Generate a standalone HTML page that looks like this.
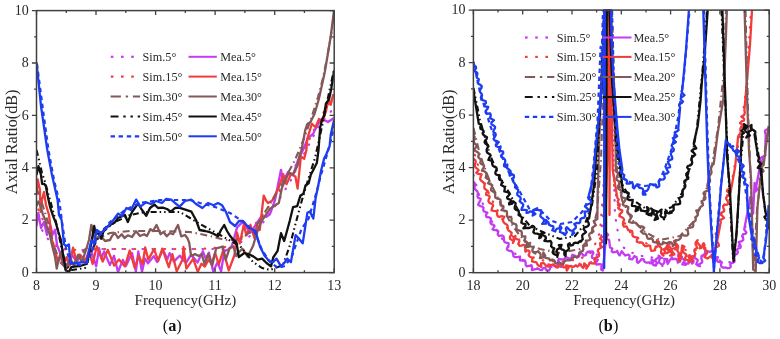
<!DOCTYPE html>
<html><head><meta charset="utf-8"><style>
html,body{margin:0;padding:0;background:#fff;width:780px;height:339px;overflow:hidden}
svg{display:block;will-change:transform;filter:blur(0.3px)}
text{font-family:"Liberation Serif", serif;fill:#2a2a2a}
.t{font-size:14px}
.lg{font-size:12.2px}
.ax{font-size:15px}
.ay{font-size:16.2px}
.cap{font-size:16.3px;fill:#111}
</style></head><body>
<svg width="780" height="339" viewBox="0 0 780 339">
<defs><clipPath id="cl"><rect x="36.5" y="10" width="298" height="263"/></clipPath><clipPath id="cr"><rect x="473.4" y="9.6" width="296" height="263.5"/></clipPath></defs>
<g clip-path="url(#cl)">
<polyline points="36.5,222 42,230 50,242 58,250 70,251 100,249 150,249 200,249 225,249 238,244 250,236 262,224 275,206 290,182 305,152 320,124 334,108" fill="none" stroke="#c43cf2" stroke-width="2.2" stroke-linejoin="round" stroke-dasharray="0.6 9.4" stroke-linecap="round"/>
<polyline points="36.5,205 42,218 50,236 58,248 70,250 100,249 150,249 200,249 225,247 238,240 250,230 262,216 275,198 290,176 305,148 320,118 334,96" fill="none" stroke="#f23c3c" stroke-width="2.2" stroke-linejoin="round" stroke-dasharray="0.6 9.4" stroke-dashoffset="5" stroke-linecap="round"/>
<polyline points="36.5,226 38.4,213 41,228 44,222 47,235 50.2,225 52.7,234.6 55.1,229.7 57,245 60,252.5 62,262 66.1,267.4 71.9,254.3 76.6,261.9 81,255.7 85.2,261.6 90.5,248.4 96.2,266.3 99.1,248.2 101.4,258.5 104.1,251.4 109.9,265.1 114,255.9 118,272 122.9,259.9 125.9,266 132,253 135.9,271.4 138.3,251.4 142,271.7 145,258.5 148,263.3 153.9,256.1 157.1,262 163.1,249.7 167.3,259.4 169.6,253.1 173.8,261.6 179.9,255.7 185.8,263 191.2,254.7 197.5,262.5 202.9,251.3 205.8,258.8 208.9,252.6 213.2,271.4 217.5,262.2 221.1,271.4 224.3,251.1 228.6,249.4 231.8,246 237.1,227.4 242.4,222.1 246.4,227.4 250.4,232.7 255.7,224.8 261,216.8 266.3,216.8 270,214.2 275,200 281,169.8 283.2,182 288,172 293,175 298,160 303,150 308,138 313,134 318,124 322,119 328,122 334,118" fill="none" stroke="#c43cf2" stroke-width="2.3" stroke-linejoin="round"/>
<polyline points="36.5,195 37.7,179.4 39.9,189.7 40.6,211.9 42,200 44,192 46,205 49,215 52,240 55,250 58,262 61,255 64,265 66.5,257.3 70,265 73,247.6 76.2,260.6 79.4,254.4 85.3,260.7 89.1,251.5 92.6,264 96.8,246.3 102.7,261.6 107.8,249.9 114.2,265.6 119,259.4 124.9,266.4 129.7,250.5 134.7,267.8 138.7,255.8 142.6,264.3 145.2,247.5 148.3,259.6 154.1,249.1 158.2,260.9 162.3,248.7 168.8,267.2 172.4,254.1 176.7,271.3 182.5,259.8 183.5,247 186.4,268.7 193.2,258.8 197.8,271.9 201.4,263.7 204.8,266.6 208.6,259.5 211.6,264.1 215.1,252.9 218.8,264.3 223.2,250.4 228.8,270.4 234.5,255 237.1,232.7 239.8,243.4 243.8,224.8 246.4,235.4 250.4,224.8 254.4,238 257,224.8 259.7,230.1 263.7,195.6 266.3,200.9 268,203 272.1,200.8 278.8,187.5 283.2,174.2 286.5,184.2 290.9,174.2 295.4,176.5 297.6,188.6 300.9,156.5 304.2,158.8 306.4,149.9 307.2,139.1 311.9,123.7 315.5,127.3 319,119 322.6,121.4 326.1,110.7 328.5,98.9 330.8,104.8 333.2,94.2" fill="none" stroke="#f23c3c" stroke-width="2.3" stroke-linejoin="round"/>
<polyline points="36.5,188 42,203 48,222 54,246 60,262 66,268 75,262 85,250 95,240 110,233 130,231 160,231 190,232 210,236 225,240 240,240 255,228 265,212 280,188 295,160 305,136 312,116 318,97 323,78 327,58 331,35 334.2,14" fill="none" stroke="#845858" stroke-width="2.1" stroke-linejoin="round" stroke-dasharray="7 3.6 1.4 3.6"/>
<polyline points="36.5,206 38.4,201.5 40.6,206 43,215 45.4,220 47,228 49.4,233 51.9,244.4 55.1,257.3 56.7,268.7 58.4,260.6 60.8,252.5 63,262 66,270 70,258 74,266 78,255 82,262 86,250 89,240 91.4,224.8 95,240 100,235 105,241 110,240 112,236 115,233 118,238 121.7,234.2 124.5,238 127.8,235.3 132,237 136,231.2 140,236 144.2,234.2 147,236 150.4,229.1 153,231 156.5,225 160.6,234.2 163.5,232 166.8,236.3 170,233 173,234.2 178,225 181.2,236.3 185,235 187.5,238.3 189.2,242.6 191.1,256 195,254.1 198.8,256 201.7,254.1 204.5,263.7 208.4,254.1 212.2,265.7 216.1,248.4 219.9,247.4 222.8,246.5 225.7,259.9 229.5,248.4 233.3,246.5 236.2,256 237.1,254 242.4,248.7 247.7,256.6 253,246 257,232.7 261,222.1 266.3,214.2 270,208.9 274,206 278.8,203 282,187.5 288.7,173.1 293.1,174.2 297.6,165.4 299.8,154.3 301.3,151 305.3,130 307.4,124 310.5,122 314.6,113.7 318.8,99.3 322.9,80.7 324.9,71.5 327.3,57.3 330.8,36 333.9,11.2" fill="none" stroke="#845858" stroke-width="2.3" stroke-linejoin="round"/>
<polyline points="36.5,150 38.5,158 42,173 45,182 50,200 56,222 62,250 66,266 72,270 85,268 92,250 100,234 115,222 130,215 145,212 180,212 200,224 220,235 240,246 253,262 262,268 270,270 283,265 290,245 296,222 302,200 308,180 315,158 320,136 325,112 330,88 334,70" fill="none" stroke="#111111" stroke-width="2.1" stroke-linejoin="round" stroke-dasharray="6 3 1.5 3 1.5 3"/>
<polyline points="36.5,175 38.4,166.2 41,175 42.1,183.8 44.3,184 45.8,186 47.3,194.2 50.2,207.4 53.2,216.3 56.1,223.7 58.4,232 60.8,239.5 63.2,255.7 65.7,270.3 68.9,272 71.3,267.1 76.2,266.3 80,266 86.6,264 91,245 94.2,226 95.6,233.2 99.2,233.9 101.2,238.8 104.2,228.8 110,225 114.8,222.4 118,218 125,215 127.8,222 132,212 138,203.5 142,210 146.3,215.8 150,208 154.5,204.5 158,208 162.7,207.6 167,209 170.9,211.7 175,208 179,207.6 185.3,209.6 191.4,211.7 196,220 199.6,230 205,231 209.9,232.2 214,234 218,236.3 221,230 224.2,225 227,231 230.4,236.3 233.5,240 236.5,242.4 238.8,257 244.4,253 248.8,254.2 253.3,256.4 257.7,259.7 262.1,258.6 266.5,263 271,266.4 273.2,257.5 277.6,250.9 281,233.2 284.2,241 287.6,228.8 289.7,221 293.1,207.1 297.2,206.1 300.3,195.8 303.4,193.7 305.5,185.5 308.6,183.4 310.7,175.1 314.8,166.9 316.9,162.7 318.5,150 320.2,127.3 321.9,120 323.9,115.8 326,103.4 329.1,99.3 331.2,88.9 334.2,70.3" fill="none" stroke="#111111" stroke-width="2.3" stroke-linejoin="round"/>
<polyline points="37,64 43,110 48.5,150 54,180 59.5,202 62,222 66,248 70,262 80,265 88,262 96,240 110,222 125,210 140,203 160,200 190,200 200,203 215,207 230,213 245,223 255,233 262,250 270,262 278,268 285,266 292,256 301.5,229 308.6,218.6 315.7,195 321,175 326,158 331,140 334.2,126" fill="none" stroke="#1e3cf0" stroke-width="2.2" stroke-linejoin="round" stroke-dasharray="4.4 3.6"/>
<polyline points="36.5,62.4 41,106 47.3,150 52,175 57.6,200 59,215 61.6,220 64,244.4 66.5,246 68.9,244.4 70.5,263.8 76.2,263 82.7,262.2 86.6,262.7 89,250 91.6,240 94,244 96.7,230 101,233 106.8,227.6 112,222 118,213.6 122,216 126.4,208 131,210 136.2,199.6 140.4,206.6 146,202.4 151,204 156,201 162,203 166,199 171.2,199.6 175,203 179.6,206.6 185,201 191.2,199.6 196,204 202.4,208 208,203 213.6,205.2 218,203 222,205.2 226,212 230,222 235,226 239,221 243,221 248.8,227.7 255.5,231 260,246.5 264.3,255.3 268.8,260.8 273.2,262 276.5,258.6 281,266.4 284.2,263 287.4,258.7 290.9,262.2 295.6,235.1 298,237.5 302.7,243.3 307.4,212.7 309.8,211.5 313.3,218.6 315.7,197.4 317.9,187.5 321,171 324.1,158.6 326.2,154.5 329.6,146.2 330.8,134.4 334,120.2" fill="none" stroke="#1e3cf0" stroke-width="2.3" stroke-linejoin="round"/>
</g><g clip-path="url(#cr)">
<polyline points="473.5,175 480,198 490,218 500,236 510,249 520,258 530,265 540,267 560,267 580,265 592,262 600,250 603,215 605,120 606.5,10.1" fill="none" stroke="#c43cf2" stroke-width="2.2" stroke-linejoin="round" stroke-dasharray="0.6 9.4" stroke-linecap="round"/>
<polyline points="611,10.1 612.5,120 615,215 620,245 630,252 645,257 660,258 680,257 700,256 712,255 722,262 732,262 742,238 752,205 760,170 768.6,135" fill="none" stroke="#c43cf2" stroke-width="2.2" stroke-linejoin="round" stroke-dasharray="0.6 9.4" stroke-linecap="round"/>
<polyline points="473.5,150 480,172 490,196 500,215 510,233 520,246 530,256 540,260 560,262 580,259 592,252 600,232 604,180 607,90 608.3,10.1" fill="none" stroke="#f23c3c" stroke-width="2.2" stroke-linejoin="round" stroke-dasharray="0.6 9.4" stroke-dashoffset="5" stroke-linecap="round"/>
<polyline points="610.5,10.1 611.5,100 614,185 620,215 630,232 645,243 660,248 680,250 700,250 712,246 722,212 732,180 740,135 746,90 751,10.1" fill="none" stroke="#f23c3c" stroke-width="2.2" stroke-linejoin="round" stroke-dasharray="0.6 9.4" stroke-dashoffset="5" stroke-linecap="round"/>
<polyline points="473.5,181.7 474.6,183.2 475.2,184.8 474.6,186.9 474.5,188.7 476,190.1 477.4,191.4 477.8,192.9 477.7,194.7 477.5,196.5 478.3,197.9 480.7,198.9 480.2,200.8 478.8,202.9 478.1,204.8 480.3,206.1 482.4,206.6 483.5,207.8 483.2,209.9 483.8,211.3 485.8,212 486.6,213.4 486,215.5 486.4,217 489.3,217.4 491,218.4 490.6,220.7 490.4,222.7 491.3,224.2 493.5,224.9 494.6,226 492.5,229.3 494.2,230.1 496.9,230.2 498.3,231.2 497.7,234.5 498.9,235.9 502.1,235.4 503.6,236.5 503.9,238.2 503.9,240.2 504.4,241.8 505.8,242.7 508.5,243.1 508.7,244.8 507.5,247.2 506.8,249.3 508.6,250.7 511.1,251 512.5,252.1 513.1,253.9 513.5,256.3 515.1,257.2 517.6,257.1 520,256.5 519.9,260.3 522.3,260.5 524.9,260.5 525.6,262.5 525.7,265 526.7,266.4 529,265.8 531,265.7 532.1,267 531.9,270.1 534.4,269.4 536.9,268.8 537.2,268.3 539.8,269.8 541.9,270.2 542.8,268.6 545.2,267.6 546.4,270.2 549,270.5 550,268.7 550.4,266.1 552.6,265 555,266.1 557.2,265.5 558.2,263.9 558.1,261.1 558.7,259 561.3,259.4 563.6,259.5 564.8,258.2 566.5,257.3 568.4,258.1 569.4,258.4 571.7,259.1 571.7,256.3 572.4,254.7 575.2,255.8 576.8,257.7 579,256.5 579.9,254.3 581.4,253.1 583.6,255.7 586,255.1 586.4,253.1 587.7,251.7 590.7,251.5 589.3,252.5 592.7,251.4 593.4,253 591.9,256 592,257.7 593.8,258.5 596.3,258.9 597.8,259.8 596,262.6 596.3,264.6 599.7,264.1 601.7,264.7 601.5,267 601.2,269.6 602.8,270.5 606.2,236 605.3,233.8 605.7,232.2 608.2,234.7 606.5,236.9 606.7,238.7 609.2,240 610,247.5 612.3,248.6 611.7,251.3 612.9,252.3 615.9,251.8 617.2,250.8 618.2,253.7 619.6,255.4 621.7,251.3 623.5,253.5 625.2,255.6 626,255.1 628.6,254.7 629.7,256 629.2,258.8 632.1,259.5 633.3,258.1 634.3,256.1 636.6,257.2 637,259.2 636.8,261.6 638.1,262.8 640.3,260.7 641.6,259.1 643.7,259.5 644.6,261.8 646.5,262.7 649.6,262.4 649.9,263.3 651.9,262.6 651.5,259.5 653.9,260.9 652.4,263.6 653.2,265 656,265.5 655.3,264.5 657.3,263.5 655.9,261.4 655.4,259.6 657.1,258.5 658.5,257.4 658.6,255.7 660.1,256.8 660.1,258.5 659.3,260.4 658.8,262.2 660.2,263.4 661.9,264.6 662.5,266 662.2,264.8 663.5,263.8 664.3,262.4 664.6,260.9 664.2,259 667.3,259.2 667.1,262 667.7,264 669.5,260.6 670.6,259.2 672.7,258.8 675.5,259.1 675.1,258.6 676.7,259.3 677.5,260.7 677.7,262.7 680,261.3 680.1,259.7 679.2,257.8 678,255.8 678.5,254.4 680.7,253.5 680.4,255.5 680.3,257.1 681.5,258.3 683.5,259.2 685.2,260.3 683.3,262.5 682.3,264.4 685.8,264.9 685.3,263.3 688.5,263.6 688.9,261.5 691.1,261.3 692,263.6 693.2,262.6 693.7,260.9 692.1,258.6 692,256.7 694.9,255.8 694.3,257.6 696,258.7 697.7,259.9 697.2,261.9 696.2,264.2 697.7,265.4 700,266.3 698.4,264.8 700.1,263.7 702,262.6 702.3,261 701.4,259 701.4,257.2 702.3,255.8 703.7,254.6 704.9,253.8 705.4,251 707.4,251 710,252 711.6,251.1 712.3,251.2 713.3,252.6 713.5,254.4 712.9,256.5 714.5,257.7 717.9,257.2 716.7,260.2 717.6,261.6 719.4,262.1 721.8,262.1 721,264.8 721.3,266.6 723.1,267.7 725.7,267.5 727.5,268.3 727.3,268.2 729.6,268 730.8,266.8 730.2,263.7 732.4,262.9 734.3,261.9 734.7,260 734.2,258 734.3,256.3 735.4,254.9 737,253.8 737.9,252.3 736.9,250.1 737.8,248.7 740.2,248 740.8,246.5 739.9,244.2 738.7,242.1 741.8,241.2 743.3,239.8 743.1,237.9 742.3,235.8 743,234.2 745.5,233.8 746.4,232.5 744.2,229.5 750.4,196.8 753.1,213.6 754.6,182.8 755.2,184.5 754.7,186.5 756.4,187.8 757.5,189.3 755.3,191.8 760.4,163.7 762.5,162.7 760.6,160.3 760.4,158.5 761.6,157.3 763.8,156.3 765.5,155.2 765.1,153.3 765.7,134.5 765.1,132.5 765,130.6 766.7,129.5 769.2,128.6 770.3,127.2" fill="none" stroke="#c43cf2" stroke-width="2.3" stroke-linejoin="round"/>
<polyline points="473.5,158.9 475.3,160.2 475.8,161.8 475,163.9 474.8,165.8 475.5,167.4 477.1,168.7 478.6,170.1 476.3,172.8 478.4,173.9 481.6,174.6 480.6,176.8 480.1,179 480.9,180.5 482.4,181.7 484,183 484.6,184.7 484.3,186.7 484.5,188.5 486.2,189.8 487.7,191 486.2,193.2 486.2,194.9 489,195.6 489.7,197.1 488.9,199 488.4,200.9 489,202.5 490.7,203.4 492.6,204.2 493.1,205.8 492,208 491.5,210.4 493.8,210.8 496.2,211.1 497,212.5 497.1,214.6 497.8,216.4 499.4,216.8 501.7,216.2 504.4,216.8 502.9,219.4 503.1,221 503.8,222.5 505,223.6 506.6,224.5 507.6,225.8 507.7,227.6 508,229.3 508.5,230.6 510.5,231.8 511.7,233.1 511.1,235 510,236.9 509.9,238.7 511.8,239.9 513.9,241 512.9,242.9 513.4,241.9 514.1,240.5 513.7,238.5 514.1,237 515.5,235.9 515.2,238 516.4,239.2 519.2,239.6 519.3,241.3 518.4,243.5 519.4,245.8 521.4,245.7 523.8,244.8 525.4,245.3 525.4,248.1 525.2,250.6 527.8,250.4 529.5,251.2 529.6,252.8 528.6,254.8 529.3,256.3 531.2,257.3 532.5,258.3 532,261.4 534.2,261.8 536.4,262.3 537.1,263.9 538.1,265.2 539.5,266 541.3,266.2 541.1,263.3 543.4,262.8 545.2,264.8 546.5,266.1 548.5,266.5 548.4,264.4 551.3,265.3 552.8,264.4 554.4,264.7 555.5,266.7 557.1,267.6 558.6,267.1 559.5,265.2 562.4,264.8 563.4,267.3 565.4,267.3 565.9,265.5 567.7,265.7 566.5,268.6 566.8,270.6 568.5,267.9 569.2,266 572.2,266.9 574.1,266.5 575.7,265.3 577.4,266.5 578.6,265.8 579.6,263.8 580.7,265 581.8,266.7 583.2,268 584.1,266.4 584.2,263.3 586.6,265.6 586.3,268.7 588.7,265.1 589.5,262.8 591.9,263.3 594.4,263.5 594.9,261.6 594.4,259.1 595.3,257.8 597.2,257.2 598.8,256.3 599.2,254.4 598.6,252.6 597.8,250.8 598.3,249.3 600.3,248.2 602.3,247.1 600.4,245 600,243.3 602.1,242.2 602.3,240.6 600,238.4 601.8,237.3 604.1,236.3 604.7,234.8 606,200 607.5,150 608.5,60 608.8,10.1 609.5,10.1 609.5,215 610.3,10.1 611,10.1 611.5,100 612.7,170 617.1,196.5 617.5,198.1 618.7,199.5 617.7,201.4 618.1,203 619.8,204.3 619.6,206 618.2,208 619.5,209.4 622.3,210.4 621.9,212.2 619.6,214.4 619.3,216.2 621.9,217.2 623.5,218.4 624.1,220 623.3,221.8 622.9,223.6 623.2,225.2 624,226.7 626.6,226.4 627.4,228.3 628.2,230.2 630.2,230.5 632,231 632.5,233.1 632.4,235.1 633.2,236.5 635,237.2 637.1,237.7 637,239.7 636.8,241.7 638.9,242.5 641,242.3 642.6,242.9 643.6,244.7 644.9,246 646.8,246.1 649,245.4 650.3,246.1 650.6,248.9 651.3,250.8 653.1,250.7 655.2,250.2 654.9,248.7 656.1,247.2 658,246.1 657.9,244.2 656.7,242 657,240.2 659,242.1 657.8,244.1 657.9,245.7 659.9,246.7 661.2,248 661.6,249.5 661.1,251.3 661.1,252.9 662,254.3 663.5,255.5 662.2,253.7 665.4,253.2 665.1,251.4 663.7,249.3 665.6,248.3 666.7,247.1 665.9,248.5 667.8,249.7 669.2,251 667.1,253.2 668.9,251.8 668.9,250.2 668.1,248.5 666.6,246.6 667.2,245.2 669.6,244.1 667.7,246.1 670.3,247.2 670.9,248.8 669.4,250.8 670.7,252.2 673.2,253.4 670,255.7 674.4,254.5 673,252.4 671.5,250.3 672.1,248.9 675,248.1 676.4,246.8 675.9,245 674.6,243 674.1,241.1 676.2,240.1 674.9,241.9 675.5,243.4 677.2,244.6 678,246 678,247.6 677.6,249.2 677.4,250.8 678.3,252.2 679.2,253.6 679.6,255.1 679.4,256.7 678.5,258.4 678.6,259.9 680.2,261.2 682.2,245.5 684.4,246.5 683.7,248.4 682.6,250.5 683.1,252 684.7,253.3 686.2,254.5 686,256.3 684.9,258.3 685.8,259.7 689.2,260.4 689.4,262 688.4,261.3 691,260.8 689.5,258.5 688.3,256.2 689.6,255.1 690.8,257.2 690.1,259 690.8,260.4 692.5,261.4 692.1,259.6 692.3,258.1 693.4,256.7 694.8,255.4 695.4,254 694.7,252.2 694.2,250.5 695,249.1 697.1,248 696.6,246.3 695.7,244.5 695.5,242.9 696.4,241.5 697.7,240.1 696.9,241.9 697.9,243.4 699.4,244.8 700.3,246.3 699.6,248.3 701.5,247.8 702.3,246.3 702.7,244.5 703.6,243.1 704.6,245.1 704,246.9 704,248.6 705.2,250 707.2,251.4 707.2,253 705.8,254.9 704.4,256.9 707.5,258.6 709.4,257.1 711.4,255.7 712.3,258.3 713.6,256.6 713,254.7 713.4,253 715.1,251.8 715,250 714.4,247.9 717,247 718.9,245.8 718.5,243.8 717.1,241.4 720.8,222 719.5,220.1 722.3,219.1 724.1,217.8 722.2,215.8 720.1,213.8 721.9,212.5 724.1,211.3 724.2,209.7 723.3,207.9 723.1,206 724.4,204.9 727.2,204.5 728.6,203.5 727.6,201 726.3,199.2 726.2,197.5 727.5,196.1 729.7,195 729.2,193.2 726.9,191.2 727.5,189.7 729.6,188.5 728.8,190.8 730.6,192.2 735.2,166.4 737.8,139.8 737.9,138.1 738.1,136.4 739.1,134.9 740.2,133.5 740.8,131.9 740.3,129.9 740.5,128.1 742.5,126.8 742.7,125.1 740.1,123 741.2,121.6 744,120.4 744,118.7 741.3,116.6 743.8,115.4 744.6,113.9 744.8,112.3 744.4,110.6 747,80 750,45 752,10.1" fill="none" stroke="#f23c3c" stroke-width="2.3" stroke-linejoin="round"/>
<polyline points="473.5,128 480,155 490,182 500,202 510,222 520,236 530,245 540,249 560,253 580,249 590,238 597,212 601,160 604,70 605.5,10.1" fill="none" stroke="#845858" stroke-width="2.1" stroke-linejoin="round" stroke-dasharray="7 3.6 1.4 3.6"/>
<polyline points="612,10.1 614,80 617,170 622,200 632,220 645,232 660,240 680,236 695,220 705,195 712,165 718,128 724,70 726,10.1" fill="none" stroke="#845858" stroke-width="2.1" stroke-linejoin="round" stroke-dasharray="7 3.6 1.4 3.6"/>
<polyline points="745.5,10.1 748,110 751,190 753.5,268 757,210 761,175 768.6,128" fill="none" stroke="#845858" stroke-width="2.1" stroke-linejoin="round" stroke-dasharray="7 3.6 1.4 3.6"/>
<polyline points="473.5,135.5 474.6,137 474.6,138.7 474,140.5 473.8,142.3 475,143.7 476.3,145.2 476.3,146.9 474.6,148.9 475,150.7 476.9,151.8 478.6,153 478.9,154.6 478.2,156.5 478.9,158 480.5,159.2 480.8,160.8 480.2,162.8 481.2,164 483.4,164.9 484.2,166.3 483.1,168.4 482,170.6 484.5,171.3 485.8,172.4 486.4,173.8 486.3,175.6 485.7,177.6 487,178.6 488.9,179.4 489.6,180.9 488,183.3 489.9,184.2 492.2,185.1 492,186.8 491.1,188.9 491.2,190.6 493.1,191.6 494.5,192.6 495.2,194.1 495.2,195.8 495.2,197.6 497,198.6 499.1,198.9 500.5,199.9 500.7,202 500.3,203.8 500.7,205.4 503.3,206.1 503.5,207.7 501.4,210.2 504.7,210.6 506.8,211.3 507,213.3 506.9,215.6 508.1,216.9 511.1,216.8 511.6,218.7 511.3,221.2 512.1,222.7 513.8,223.7 515.9,224.3 516.6,226 516.3,228.5 517.3,229.9 519.4,230.6 521.3,231.2 521.9,232.7 521.7,234.8 522.2,236.4 525.3,236.5 525.2,238.4 524.2,240.6 525.2,241.9 527.1,242.7 527.2,244.9 525,247.3 529.3,246.7 529.1,244.1 530.2,242.9 529,245.5 531.2,246.5 533.6,247.3 532.5,249.4 532.4,251.1 533.6,252.4 535.5,253.5 534.7,252.1 536.8,251.8 538.4,251.1 538.2,251.9 539.9,252.9 540.6,254.3 540.6,256.1 539.9,258.1 543.4,257.3 543.2,254.7 543.3,252.4 545.2,255.5 544.8,257.4 546.7,258.2 549.3,258.7 549.7,260.3 550.2,260.3 552.2,259.7 553.6,259.9 554.8,261 555.2,263 557.1,263.5 559.1,262.2 560.8,263.4 563.2,264.2 564.2,261.9 565.7,260.4 567.7,260.1 569.7,260.4 571.5,259.8 572.9,258 574.3,256.5 576.4,256.8 577.9,256.3 578.9,254.8 579.3,252.9 580.6,251.7 582.7,251 583.4,249.3 583.1,247 584.5,245.9 586.9,245.3 586.4,243 585.9,240.7 588.8,240.3 590.5,239.2 589.7,237.1 589,235 589.8,233.5 592.1,232.7 593.4,231.4 592.1,229 592.6,227.5 594.1,226.3 595.9,225.2 594.7,223.1 593.7,221.1 595.7,220.1 597.4,218.9 597.5,200 598.9,150 601,90 603,40 604.5,10.1 611,10.1 613,80 615.7,150 615.8,170 616.2,171.6 617.8,173 618,174.6 617,176.4 616.4,178.2 616.6,179.8 618.5,181.1 619.9,182.6 619.1,184.3 618,186.2 617.9,187.8 619,189.3 620.5,190.3 621.7,191.5 621.6,193.1 621.2,194.9 621.3,196.5 622.7,197.6 625.1,198.3 625.5,199.8 624,202 622.7,204.2 623.7,205.5 626.4,206.1 628.3,207 628.2,208.8 627.4,210.8 627.4,212.5 628.4,213.8 630.6,214.8 631.9,216 631,218 629.4,220.2 629.1,222 632.2,222.9 634.2,222.4 635.8,222.9 637,223.9 638.1,225.2 639.2,226.4 641,226.5 642.9,226.6 644.2,227.6 642.6,230.1 640.9,231.5 643,233.5 645.5,233.7 646.6,235.1 647,236.7 647.7,238.7 649.4,238.8 651.5,238.1 652.7,239.7 653.2,241.9 655.1,242.4 657.2,242.5 658.7,243.2 660.4,244.7 662.5,244.2 663,242.1 665.3,243.1 667.1,243.2 668.4,242.4 669.4,242.2 671.1,242.4 672.3,243.6 672.8,246 675.3,243.8 675.1,241.4 676.3,240.4 678.1,240 679.6,239.2 680.6,238.1 681.2,235.9 682.6,235 684.6,235.6 687.1,235.5 688.3,234.3 688,232.1 687.5,229.7 688.1,228.1 690.3,227.5 692.7,227.1 693.3,225.4 693.1,223.1 694.1,221.6 695.6,220.6 695.7,218.9 695.3,217.1 697,216 698,214.5 697.2,212.6 696.2,210.6 699.3,209.8 699.6,208.2 701.2,206.3 701.5,206.4 703,205.1 702.8,203.4 701.5,201.3 703.6,200.3 705.2,199 705.5,197.4 704.6,195.4 703.4,193.4 704.5,191.8 707.3,190.9 709,189.6 707.5,187.2 707.3,185.3 708.1,183.9 709.4,182.6 710.1,181.1 709.9,179.4 709.5,177.7 709.5,176.1 710.5,174.7 711.4,173.2 711.5,171.6 711,169.9 710.6,168.2 711.2,166.7 712.4,165.3 713.7,163.9 717.9,131.9 723.2,100 725,60 726.9,10.1" fill="none" stroke="#845858" stroke-width="2.3" stroke-linejoin="round"/>
<polyline points="744.6,10.1 746,60 747.5,110 749,150 751.1,179.7 753.2,269.6 755.7,271.3 757.4,208 760.2,180 760.3,178.5 761.3,177.1 761.1,175.5 760.7,173.9 761.5,172.5 763.5,171.3 762.7,169.6 760.7,167.7 761.7,166.3 763.6,165.1 766.8,139.8 768.6,126" fill="none" stroke="#845858" stroke-width="2.3" stroke-linejoin="round"/>
<polyline points="473.5,88 480,120 490,155 500,178 510,194 520,214 530,226 545,233 560,239 575,236 585,224 592,205 597,170 601,90 604,10.1" fill="none" stroke="#111111" stroke-width="2.1" stroke-linejoin="round" stroke-dasharray="6 3 1.5 3 1.5 3"/>
<polyline points="610,10.1 612,70 616,145 621,182 630,198 645,208 660,212 672,207 682,193 690,168 697,128 703,65 707,10.1" fill="none" stroke="#111111" stroke-width="2.1" stroke-linejoin="round" stroke-dasharray="6 3 1.5 3 1.5 3"/>
<polyline points="721.5,10.1 725,95 729,185 733,258 737,230 740,170 744,127 750,126 755,132 760,165 765,210 768.6,228" fill="none" stroke="#111111" stroke-width="2.1" stroke-linejoin="round" stroke-dasharray="6 3 1.5 3 1.5 3"/>
<polyline points="473.5,91.3 475.9,106 478.8,123.7 480.8,124.5 480.3,127 480.6,129 482.6,129.7 483.6,131.2 482.6,133.3 483.3,134.8 485,136 487,137.3 486.6,138.9 484.9,140.8 484.6,142.4 485.6,143.8 487.8,144.9 488.5,146.3 487.2,148.1 486.6,149.8 486.7,151.3 487.3,152.8 489.3,154 490.7,155.3 489.2,157.8 488.4,160 491.4,160.7 492.1,162.1 492.2,164.1 492.9,165.8 494.1,166.6 496.3,167.6 496.8,169.1 495.8,171 495.3,172.7 495.7,174.2 497.8,175.2 499.8,175.5 498.9,178.3 499.6,179.9 502,180.5 501.9,182.5 501.1,184.9 503,185.9 504.6,186.9 504.8,188.9 504.3,191.4 506.5,192 509.3,192.9 509,195.1 507,197.2 507.5,198.6 510.1,199.6 511.7,200.8 509.2,202.9 509.1,204.5 512.3,203.6 513.4,201.4 515.7,203.3 515.3,205.1 514.7,207 514.7,208.6 515.9,209.8 518.6,210.7 518.9,212.8 518.6,215.1 520.3,216 521.7,217.1 522.1,218.7 521.7,220.7 521.3,222.6 522.8,223.6 525.4,224.1 525.6,225.6 523.4,228.3 527.3,227.9 529.4,228 528.6,228 530.7,227.4 531.7,226.2 532.4,225.8 533.9,226.6 534.7,227.9 533.9,230.1 533.3,232.2 534.6,233.3 537.2,233.7 539.3,234.3 539.6,236 539.2,238.2 541.1,237.2 541.2,235.3 541.2,233.4 543.1,232.8 542.1,234.9 544.1,235.7 545.6,236.7 545.9,238.3 544.4,240.8 548,241.3 550.4,240.8 551.5,242.7 551.3,244.4 551.1,246.2 552.3,247.5 554.3,248.4 553.1,250.6 552.6,252.4 553.4,253.7 555.3,254.6 557.3,255.5 557.3,257.1 557.3,256.1 558,254.6 557.4,252.9 556.6,251.1 557.1,249.6 559.1,248.4 559.9,246.9 558.9,245.1 561.6,244.8 560.5,248.3 561.7,249.4 563.4,249.9 565,250.9 564.3,253 564.4,254.7 565.5,256 565.7,253.9 565.5,252.2 566.8,250.9 568.4,249.7 569,248.2 568.2,246.3 568,244.5 569.7,243.3 570.6,245.6 573.2,244.8 573.6,243.3 575.4,242.7 578.2,243.1 578.7,241.8 581.1,241.5 579.7,241.4 581.6,240.5 582.8,239.2 582.3,237.3 582.2,235.6 583,234.2 584.8,233.2 586,232 583.6,229.3 584.1,227.7 586.3,226.9 588.1,225.9 588.9,224.6 588.6,222.9 587.6,220.9 587.6,219.3 589.1,218.2 591.3,204.8 593.3,190.3 594.4,180 596.5,150 599,120 601.5,90 603.5,60 604.5,35 604.8,10.1 606,10.1 606,243.3 606.8,10.1 609.5,10.1 610.5,40 612,80 615,120 618,150 620.6,170 622.4,187.7 622.7,189.4 623,191.1 624.6,192 627.1,192.2 628.8,193.3 628.3,195.4 627.4,197.6 627.6,199.3 629.6,200.1 632.2,199.8 632.6,201.7 631.9,204.7 632,205.9 635,206.1 636.8,207 636.1,209.1 635.6,211.1 638.1,209.9 637.9,207.4 639.2,206.3 640.6,208.8 640.9,210.5 643.2,210.9 645.4,211.3 644.4,211.1 647.2,211.1 647.6,209.4 647,207.1 648.5,208.4 648.7,210 647.6,211.9 646.6,213.8 648.5,214.8 651.4,215.5 648.6,213.9 652,213.6 653.7,212.6 652.5,210.5 651.1,208.4 653.5,210.3 651.8,212.5 653,213.8 655,214.8 656.5,216 655.4,218.1 654.6,220 658,218.6 657.3,216.6 656.6,214.7 656.8,213.1 658.3,211.9 660.8,211 661.6,209.6 660.1,210.4 661.2,211.8 661.3,213.4 660.4,215.4 661.4,216.8 663.5,217.8 664,219.3 663.7,218.1 665.1,217 665.6,215.4 665.2,213.6 665.1,211.8 666.6,210.7 667.1,212.9 669.1,213.3 671.8,212.7 670,211.6 672.7,211.1 673.7,209.8 673.6,207.8 673.6,205.2 675.4,204.3 678.1,204.3 680.1,203.6 680.1,201.4 679.1,198.5 680,197.5 682.4,196.5 682.8,194.7 682.6,192.8 682.4,190.9 683.2,189.4 684.5,188.1 685.3,186.6 685.3,184.9 684.4,183 684.3,181.2 685.9,179.9 688.2,178.8 688.3,177.3 686.3,175.4 686.3,173.9 687.5,172.6 688.7,171.4 688.8,169.7 687.1,167.4 687.8,166 690.4,165.3 691.8,164.1 692.2,162.6 691.8,160.8 691.4,159.1 691.9,157.5 693.7,156.1 695.2,154.7 693.8,152.8 691.6,150.8 693.2,149.4 696.3,148.3 695.2,146.5 693.9,144.6 693.8,142.9 697.8,125.4 700.6,100 702,80 704.4,57.6 707.7,10.1" fill="none" stroke="#111111" stroke-width="2.3" stroke-linejoin="round"/>
<polyline points="722.4,10.1 724,60 725.4,100 727.2,158.4 729.8,187.6 733.5,261.3 736.3,236 739.1,191.2 741.8,134.5 743.8,133.1 741.6,130.7 743.1,129.2 744.4,128.2 744.8,126.6 744.1,124.2 747.3,126.4 746,128.2 745.1,130 745.6,131.5 747.3,132.6 748.6,133.9 747.3,135.8 746.3,137.6 749.9,135.6 748.4,133.4 748.9,131.6 751.4,130.3 751.2,128.6 750.4,126.3 751.5,124.9 751.4,127.1 751.4,128.8 753.2,129.9 755.1,131.1 755.4,132.7 754.5,134.6 757.5,153 757.2,154.7 758.1,156.2 759.1,157.7 758.6,159.4 758.2,161.1 759.5,162.5 761.3,163.9 759,165.9 757.8,167.8 761.2,168.8 763,194 765.8,213.6 766.9,215 764.4,217 765.2,218.4 767.1,219.7 768.7,221 768.3,222.6 766.7,224.4 766.4,226.1 768.1,227.4 769.8,228.6 769.6,230.2" fill="none" stroke="#111111" stroke-width="2.3" stroke-linejoin="round"/>
<polyline points="474,64 480,92 490,125 500,152 510,175 520,192 530,210 540,210 550,220 560,224 572,222 582,212 590,197 594,160 597.5,120 598.8,90 600.6,46.8 601.5,60 603,10.1" fill="none" stroke="#1e3cf0" stroke-width="2.2" stroke-linejoin="round" stroke-dasharray="4.4 3.6"/>
<polyline points="612,10.1 614,90 618,155 622,178 632,183 645,186 658,184 665,168 672,148 678,118 684,75 689.5,10.1" fill="none" stroke="#1e3cf0" stroke-width="2.2" stroke-linejoin="round" stroke-dasharray="4.4 3.6"/>
<polyline points="704,10.1 707,120 709.5,190 714,268 717,230 721,185 725,148 733,146 742,170 748,205 755,245 761,262 764,256 767,225 768.6,210" fill="none" stroke="#1e3cf0" stroke-width="2.2" stroke-linejoin="round" stroke-dasharray="4.4 3.6"/>
<polyline points="473.5,61.8 473.8,63.5 472.9,65.6 475.8,66.5 476.1,68.2 474.1,70.6 475.7,71.7 477.3,73 477.3,74.6 476.6,76.4 477,77.9 478.8,79.1 478.5,80.8 477.7,82.7 478.7,84 480.6,85.1 481.8,86.4 481.3,88.1 480.1,89.8 479.9,91.4 480.6,92.8 481.7,94.1 482.1,95.6 480.9,97.4 481.2,99.7 483.4,100.4 485.6,101 485.9,102.9 484.1,104.9 484.8,106.3 488.2,107 487.5,108.7 485.8,110.7 485.6,112.4 486.9,113.6 490.2,113.4 490.8,115.6 489.9,117.7 491.8,119 494,120.2 491.3,122.6 491.5,124.1 493.3,125.4 495,126.6 495,128.2 493.7,130.1 493.3,131.9 495.3,133.2 495.8,134.8 495,136.7 493.5,138.8 494.5,140.3 497.1,141.1 498.8,142.2 495.8,144.7 496.1,146.2 498.6,147.1 500.4,148.1 500.6,146.4 499.9,149 499.9,150.7 503.1,151.7 503.2,153.4 500.9,155.6 501.6,157.2 503.7,158.3 504.9,159.6 505.3,161 505,162.7 504,164.7 504.1,166.2 506.3,167.2 507.4,164.5 507.1,166.8 507.1,168.3 509.1,169.5 510.4,170.8 510.8,172.2 510.1,174 509.6,175.7 512.2,174.2 513.8,175.3 514,176.9 513,178.9 512.7,180.7 513.6,182.2 514.8,183.6 515.4,185.2 515,187.3 516.5,188.5 518.1,189.7 518.3,191.4 517.2,193.4 517.4,195.1 519,196.2 520.4,197.4 520.8,199 519.7,201 520.6,202.2 522.3,203.4 523.3,204.8 522.9,206.4 521.8,208.2 521.5,209.8 524.8,209.8 526.8,210.1 526.5,212.8 528.4,212.7 530,211.5 531.8,211.7 533.3,212.6 532.7,215.5 535.4,214 533.1,211.4 533.5,209.8 535.6,209.1 537.2,208.2 536.9,209.7 539,210.1 541.2,210.5 541.4,212.4 540.5,214.7 540.4,216.3 541.7,217.6 543.4,218.7 544.1,220.1 543.7,221.8 542.2,223.9 546.2,223.6 546,220 548.5,222.5 549,224.7 550.9,225.6 553.2,226.3 553.5,228 552.3,230.3 555.3,231.5 555.7,229.8 557.2,228.6 559.8,228.1 559.9,225.9 560.7,226.6 561.5,228 560.2,230.2 560,232 562.3,232.8 564.6,233.6 565.3,235 563.8,234.3 565.9,233.6 566.8,232.3 566,230.2 565.8,228.4 566.7,227.1 569.3,229.6 570.6,230.5 572.5,231 572.7,232.9 572.1,235 574.2,233 572.6,230.8 574.1,229.4 575.7,228 575.9,226.2 574.3,224 576.8,222.9 579.2,223.2 580.3,221.8 580.4,219 582.2,218.1 584.4,217.6 585.2,215.8 584.9,213.7 584.5,211.7 588.6,211.3 587.9,209.2 585.5,206.9 585.9,205.3 588,204.2 590.5,203.2 591.3,201.7 589.9,199.7 588,197.6 588.6,196.1 592.3,182.1 593.8,170 595.5,150 597.5,130 600.5,100 602.5,70 603.8,40 604.2,10.1 604.2,268 604.9,10.1 611,10.1 611.5,40 613,70 615,100 617.5,130 619.5,150 622.4,170 621.8,171.9 622.5,173.6 624.3,175.1 623.9,177 623.6,178.9 625.8,179.6 627,180.7 626.6,183.5 629.3,183.7 632.2,182.3 633,184.7 632.9,187.3 634.1,188.4 635.9,185.5 638.5,186.2 639,187.6 641,188 642.7,188.7 643.3,190.5 642.8,192.7 643,194.5 645.6,194.7 644.3,192.7 645.1,191.4 647.1,190.6 648.1,189.3 648.6,187.9 649.2,186 650,184.1 652.8,184.6 653.7,185.4 656.2,185.1 656.4,187.3 658,187.1 659.3,186.1 659.2,184.1 658.6,181.7 659.4,179.9 661.6,179.7 663.7,179.4 664.8,178 664.4,175.9 663.8,173.6 666.8,173.6 668.5,172.1 667.1,170.1 666.2,168.1 670.1,167.1 669.8,165.3 668.4,163.4 667.9,161.8 669.6,160.2 672.2,159.1 672.2,157.2 671,154.8 670.8,153.3 671.8,151.9 673.7,150.8 673.8,149.2 672.7,147.5 671.6,145.7 672.2,144.3 674.2,143.2 675.9,142 674,140.1 672.8,138.2 675.6,137.3 677.1,136.1 675.5,134.2 674.7,132.4 677,131.4 678.6,130.2 678.2,128.6 680.1,107.7 679.3,105.9 679.1,104.2 681.8,103 683,101.6 680.7,99.5 680.9,97.9 682.7,96.6 684.5,95.2 682.6,93.2 681.5,91.4 682.3,89.9 686,50 688.9,10.1" fill="none" stroke="#1e3cf0" stroke-width="2.3" stroke-linejoin="round"/>
<polyline points="703.3,10.1 704.5,50 705.9,100 707.3,147.8 708.6,179.7 711,225 713.8,269.7 713.8,272.2 716.6,236 719.4,208 720.8,188.4 722.5,172 724.5,153.1 725.9,139.8 725.7,141.8 728,142.9 728.7,144.6 730.1,144.4 729.4,145.7 730.7,147 732.3,148.1 733,149.7 733.5,150.7 735.1,151.4 736.9,149.8 739.1,151.3 736.8,153.6 736.5,155.5 738.9,156.7 740.2,158.1 739.4,160.1 739.4,161.9 740.2,163.4 742.6,164.6 743.7,166 742.1,168 741.3,169.9 741.8,171.4 744.2,172.5 743.9,174.2 741.8,176.4 743.2,177.8 745.3,179.1 745.1,180.9 744.1,182.8 745.9,184.1 747.7,185.5 747,187.4 747.5,208 749.5,222 751.8,236 751.6,237.6 751.3,239.3 753.1,240.5 754.9,241.6 754.5,243.3 753.3,245.2 753.4,246.8 754.8,248.1 756.3,249.4 756.6,251 755.7,252.9 755,255 757.9,255.9 759.1,257.4 758.1,259.6 757.4,261.7 759.7,263.1 762.5,263.1 761,262 764,261.7 765.2,260.6 763.3,257.8 765.8,241.6 767.2,227.6 768.6,205" fill="none" stroke="#1e3cf0" stroke-width="2.3" stroke-linejoin="round"/>
</g>
<rect x="36.5" y="10.6" width="297.7" height="262" fill="none" stroke="#404040" stroke-width="1.5"/>
<path d="M36.5 272.6h-4.6M334.2 272.6h-4.6M36.5 246.4h-2.4M334.2 246.4h-2.4M36.5 220.2h-4.6M334.2 220.2h-4.6M36.5 194h-2.4M334.2 194h-2.4M36.5 167.8h-4.6M334.2 167.8h-4.6M36.5 141.6h-2.4M334.2 141.6h-2.4M36.5 115.4h-4.6M334.2 115.4h-4.6M36.5 89.2h-2.4M334.2 89.2h-2.4M36.5 63h-4.6M334.2 63h-4.6M36.5 36.8h-2.4M334.2 36.8h-2.4M36.5 10.6h-4.6M334.2 10.6h-4.6M36.5 272.6v-4.4M36.5 10.6v4.4M96 272.6v-4.4M96 10.6v4.4M155.6 272.6v-4.4M155.6 10.6v4.4M215.1 272.6v-4.4M215.1 10.6v4.4M274.7 272.6v-4.4M274.7 10.6v4.4M334.2 272.6v-4.4M334.2 10.6v4.4M66.3 272.6v-2.4M66.3 10.6v2.4M125.8 272.6v-2.4M125.8 10.6v2.4M185.3 272.6v-2.4M185.3 10.6v2.4M244.9 272.6v-2.4M244.9 10.6v2.4M304.4 272.6v-2.4M304.4 10.6v2.4" stroke="#404040" stroke-width="1.3" fill="none"/>
<text x="28.7" y="276.7" text-anchor="end" class="t">0</text>
<text x="28.7" y="224.3" text-anchor="end" class="t">2</text>
<text x="28.7" y="171.9" text-anchor="end" class="t">4</text>
<text x="28.7" y="119.5" text-anchor="end" class="t">6</text>
<text x="28.7" y="67.1" text-anchor="end" class="t">8</text>
<text x="28.7" y="14.7" text-anchor="end" class="t">10</text>
<text x="36.5" y="289.5" text-anchor="middle" class="t">8</text>
<text x="96" y="289.5" text-anchor="middle" class="t">9</text>
<text x="155.6" y="289.5" text-anchor="middle" class="t">10</text>
<text x="215.1" y="289.5" text-anchor="middle" class="t">11</text>
<text x="274.7" y="289.5" text-anchor="middle" class="t">12</text>
<text x="334.2" y="289.5" text-anchor="middle" class="t">13</text>
<rect x="473.4" y="10.1" width="295.8" height="262.6" fill="none" stroke="#404040" stroke-width="1.5"/>
<path d="M473.4 272.7h-4.6M769.2 272.7h-4.6M473.4 246.4h-2.4M769.2 246.4h-2.4M473.4 220.2h-4.6M769.2 220.2h-4.6M473.4 193.9h-2.4M769.2 193.9h-2.4M473.4 167.7h-4.6M769.2 167.7h-4.6M473.4 141.4h-2.4M769.2 141.4h-2.4M473.4 115.1h-4.6M769.2 115.1h-4.6M473.4 88.9h-2.4M769.2 88.9h-2.4M473.4 62.6h-4.6M769.2 62.6h-4.6M473.4 36.4h-2.4M769.2 36.4h-2.4M473.4 10.1h-4.6M769.2 10.1h-4.6M473.4 272.7v-4.4M473.4 10.1v4.4M522.7 272.7v-4.4M522.7 10.1v4.4M572 272.7v-4.4M572 10.1v4.4M621.3 272.7v-4.4M621.3 10.1v4.4M670.6 272.7v-4.4M670.6 10.1v4.4M719.9 272.7v-4.4M719.9 10.1v4.4M769.2 272.7v-4.4M769.2 10.1v4.4M498 272.7v-2.4M498 10.1v2.4M547.4 272.7v-2.4M547.4 10.1v2.4M596.6 272.7v-2.4M596.6 10.1v2.4M646 272.7v-2.4M646 10.1v2.4M695.2 272.7v-2.4M695.2 10.1v2.4M744.5 272.7v-2.4M744.5 10.1v2.4" stroke="#404040" stroke-width="1.3" fill="none"/>
<text x="465.6" y="276.8" text-anchor="end" class="t">0</text>
<text x="465.6" y="224.3" text-anchor="end" class="t">2</text>
<text x="465.6" y="171.8" text-anchor="end" class="t">4</text>
<text x="465.6" y="119.2" text-anchor="end" class="t">6</text>
<text x="465.6" y="66.7" text-anchor="end" class="t">8</text>
<text x="465.6" y="14.2" text-anchor="end" class="t">10</text>
<text x="473.4" y="289.5" text-anchor="middle" class="t">18</text>
<text x="522.7" y="289.5" text-anchor="middle" class="t">20</text>
<text x="572" y="289.5" text-anchor="middle" class="t">22</text>
<text x="621.3" y="289.5" text-anchor="middle" class="t">24</text>
<text x="670.6" y="289.5" text-anchor="middle" class="t">26</text>
<text x="719.9" y="289.5" text-anchor="middle" class="t">28</text>
<text x="769.2" y="289.5" text-anchor="middle" class="t">30</text>
<rect x="110.8" y="55.7" width="2.6" height="2.2" fill="#c43cf2"/>
<rect x="121" y="55.7" width="2.6" height="2.2" fill="#c43cf2"/>
<rect x="131.2" y="55.7" width="2.6" height="2.2" fill="#c43cf2"/>
<text x="142.6" y="61" class="lg">Sim.5°</text>
<path d="M188.5 56.8H216.8" stroke="#c43cf2" stroke-width="2"/>
<text x="220.2" y="61" class="lg">Mea.5°</text>
<rect x="110.8" y="75.5" width="2.6" height="2.2" fill="#f23c3c"/>
<rect x="121" y="75.5" width="2.6" height="2.2" fill="#f23c3c"/>
<rect x="131.2" y="75.5" width="2.6" height="2.2" fill="#f23c3c"/>
<text x="142.6" y="80.8" class="lg">Sim.15°</text>
<path d="M188.5 76.6H216.8" stroke="#f23c3c" stroke-width="2"/>
<text x="220.2" y="80.8" class="lg">Mea.15°</text>
<path d="M110.6 96.5h10.3M125.7 96.5h2.4M132.9 96.5h7.2" stroke="#845858" stroke-width="2"/>
<text x="142.6" y="100.7" class="lg">Sim.30°</text>
<path d="M188.5 96.5H216.8" stroke="#845858" stroke-width="2"/>
<text x="220.2" y="100.7" class="lg">Mea.30°</text>
<path d="M110.6 116.5h7.9M123.3 116.5h2.4M130.5 116.5h2.4M137.7 116.5h2.4" stroke="#111111" stroke-width="2.2"/>
<text x="142.6" y="120.7" class="lg">Sim.45°</text>
<path d="M188.5 116.5H216.8" stroke="#111111" stroke-width="2"/>
<text x="220.2" y="120.7" class="lg">Mea.45°</text>
<path d="M110.6 136.3h4.4M118.6 136.3h4.4M126.8 136.3h4.4M134.8 136.3h4.4" stroke="#1e3cf0" stroke-width="2.2"/>
<text x="142.6" y="140.5" class="lg">Sim.50°</text>
<path d="M188.5 136.3H216.8" stroke="#1e3cf0" stroke-width="2"/>
<text x="220.2" y="140.5" class="lg">Mea.50°</text>
<rect x="525" y="36.4" width="2.6" height="2.2" fill="#c43cf2"/>
<rect x="535.2" y="36.4" width="2.6" height="2.2" fill="#c43cf2"/>
<rect x="545.4" y="36.4" width="2.6" height="2.2" fill="#c43cf2"/>
<text x="556.7" y="41.7" class="lg">Sim.5°</text>
<path d="M602.6 37.5H631.5" stroke="#c43cf2" stroke-width="2"/>
<text x="633.5" y="41.7" class="lg">Mea.5°</text>
<rect x="525" y="55.8" width="2.6" height="2.2" fill="#f23c3c"/>
<rect x="535.2" y="55.8" width="2.6" height="2.2" fill="#f23c3c"/>
<rect x="545.4" y="55.8" width="2.6" height="2.2" fill="#f23c3c"/>
<text x="556.7" y="61.1" class="lg">Sim.15°</text>
<path d="M602.6 56.9H631.5" stroke="#f23c3c" stroke-width="2"/>
<text x="633.5" y="61.1" class="lg">Mea.15°</text>
<path d="M524.8 77h10.3M539.9 77h2.4M547.1 77h7.2" stroke="#845858" stroke-width="2"/>
<text x="556.7" y="81.2" class="lg">Sim.20°</text>
<path d="M602.6 77H631.5" stroke="#845858" stroke-width="2"/>
<text x="633.5" y="81.2" class="lg">Mea.20°</text>
<path d="M524.8 97h7.9M537.5 97h2.4M544.7 97h2.4M551.9 97h2.4" stroke="#111111" stroke-width="2.2"/>
<text x="556.7" y="101.2" class="lg">Sim.25°</text>
<path d="M602.6 97H631.5" stroke="#111111" stroke-width="2"/>
<text x="633.5" y="101.2" class="lg">Mea.25°</text>
<path d="M524.8 116.9h4.4M532.8 116.9h4.4M541 116.9h4.4M549 116.9h4.4" stroke="#1e3cf0" stroke-width="2.2"/>
<text x="556.7" y="121.1" class="lg">Sim.30°</text>
<path d="M602.6 116.9H631.5" stroke="#1e3cf0" stroke-width="2"/>
<text x="633.5" y="121.1" class="lg">Mea.30°</text>
<text x="185.4" y="305.2" text-anchor="middle" class="ax">Frequency(GHz)</text>
<text x="624.1" y="305.2" text-anchor="middle" class="ax">Frequency(GHz)</text>
<text transform="translate(17.1,141.9) rotate(-90)" text-anchor="middle" class="ay">Axial Ratio(dB)</text>
<text transform="translate(453.9,141.9) rotate(-90)" text-anchor="middle" class="ay">Axial Ratio(dB)</text>
<text x="172.2" y="330.6" text-anchor="middle" class="cap">(<tspan font-weight="bold">a</tspan>)</text>
<text x="608.4" y="330.6" text-anchor="middle" class="cap">(<tspan font-weight="bold">b</tspan>)</text>
</svg>
</body></html>
